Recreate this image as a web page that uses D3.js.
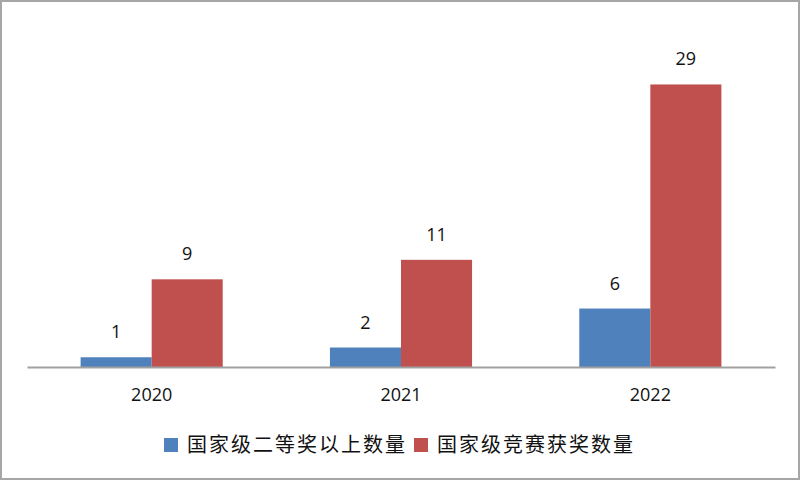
<!DOCTYPE html>
<html>
<head>
<meta charset="utf-8">
<script src="https://cdn.jsdelivr.net/npm/d3@7"></script>
<style>
  body { margin: 0; background: #fff; }
  svg { display: block; }
</style>
</head>
<body>
<div id="chart"></div>
<script>
// data
let years = ["2020", "2021", "2022"];
let seriesNames = ["国家级二等奖以上数量", "国家级竞赛获奖数量"];
let secondPrize = [1, 2, 6];
let awards = [9, 11, 29];
let colors = ["#4F81BD", "#C0504D"];

let W = 800, H = 480;
let margin = { top: 26, right: 25, bottom: 113, left: 27 },
    width = W - margin.left - margin.right,
    height = H - margin.top - margin.bottom;

let svg = d3.select("#chart")
    .append("svg")
    .attr("width", W)
    .attr("height", H);

// outer frame
svg.append("rect")
    .attr("x", 1).attr("y", 1)
    .attr("width", W - 2).attr("height", H - 2)
    .attr("fill", "#fff")
    .attr("stroke", "#a6a6a6")
    .attr("stroke-width", 2);

let g = svg.append("g")
    .attr("transform", `translate(${margin.left},${margin.top})`);

let x = d3.scaleBand()
    .domain(years)
    .range([0, width])
    .paddingInner(0.43)
    .paddingOuter(0.215);

let x1 = d3.scaleBand()
    .domain(seriesNames)
    .range([0, x.bandwidth()]);

let y = d3.scaleLinear()
    .domain([0, 35])
    .range([height, 0]);

let rows = years.map((yr, i) => ({
    year: yr,
    values: [
        { name: seriesNames[0], value: secondPrize[i] },
        { name: seriesNames[1], value: awards[i] }
    ]
}));

let color = d3.scaleOrdinal().domain(seriesNames).range(colors);

let groups = g.selectAll("g.year")
    .data(rows)
    .enter().append("g")
    .attr("class", "year")
    .attr("transform", d => `translate(${x(d.year)},0)`);

groups.selectAll("rect")
    .data(d => d.values)
    .enter().append("rect")
    .attr("x", d => x1(d.name))
    .attr("y", d => y(d.value))
    .attr("width", x1.bandwidth())
    .attr("height", d => height - y(d.value))
    .attr("fill", d => color(d.name));

groups.selectAll("text.value")
    .data(d => d.values)
    .enter().append("text")
    .attr("class", "value")
    .attr("x", d => x1(d.name) + x1.bandwidth() / 2)
    .attr("y", d => y(d.value) - 19)
    .attr("text-anchor", "middle")
    .text(d => d.value)
    .style("font-family", "'Open Sans', sans-serif")
    .style("font-size", "18px")
    .style("fill", "#111");

// x axis
let xAxis = g.append("g")
    .attr("transform", `translate(0,${height})`)
    .call(d3.axisBottom(x).tickSize(0).tickPadding(21));
xAxis.select(".domain")
    .attr("stroke", "#a0a0a0")
    .attr("stroke-width", 2);
xAxis.selectAll("text")
    .style("font-family", "'Open Sans', sans-serif")
    .style("font-size", "18px")
    .style("fill", "#111");

// legend
let legend = svg.append("g")
    .attr("transform", "translate(164,452)");

let legendX = [0, 250];

legend.selectAll("rect")
    .data(seriesNames)
    .enter().append("rect")
    .attr("x", (d, i) => legendX[i])
    .attr("y", -14)
    .attr("width", 14)
    .attr("height", 14)
    .attr("fill", d => color(d));

legend.selectAll("text")
    .data(seriesNames)
    .enter().append("text")
    .attr("x", (d, i) => legendX[i] + 23)
    .attr("y", 0)
    .text(d => d)
    .style("font-family", "'Noto Sans CJK SC', sans-serif")
    .style("font-size", "20px")
    .style("letter-spacing", "2px")
    .style("fill", "#111");
</script>
</body>
</html>
